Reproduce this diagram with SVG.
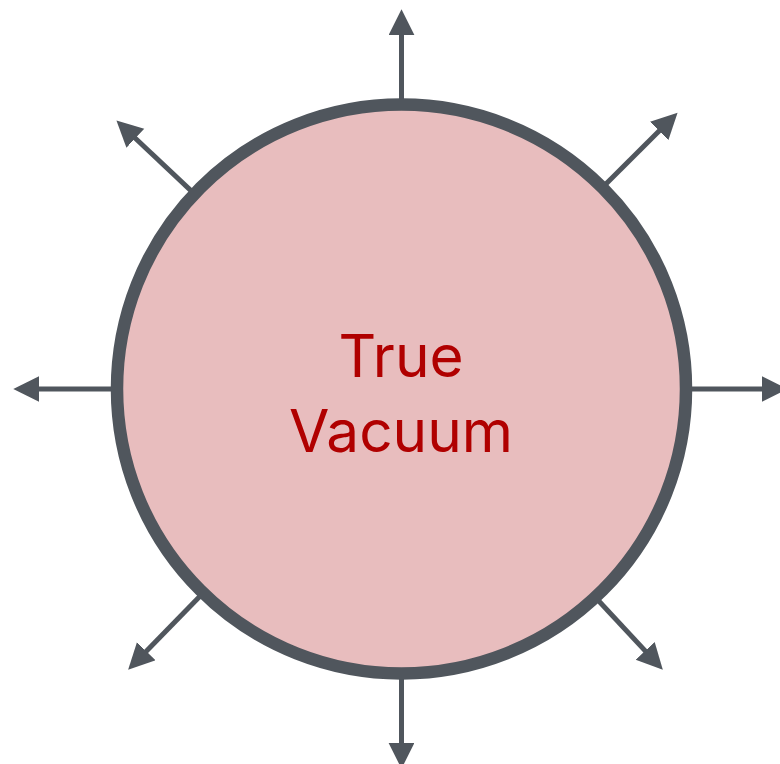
<svg xmlns="http://www.w3.org/2000/svg" width="780" height="764" viewBox="0 0 780 764">
  <style>
    .conn { stroke: #50565d; stroke-width: 5; fill: none; marker-end: url(#head); }
    .bubble { fill: #e8bdbe; stroke: #50565d; stroke-width: 12.5; }
    .label { font-family: Inter, "Noto Sans", "Liberation Sans", sans-serif; font-size: 58.5px; fill: #b00000; text-anchor: middle; }
  </style>
  <defs>
    <marker id="head" markerUnits="userSpaceOnUse" markerWidth="27" markerHeight="27" viewBox="0 0 26 26" refX="6" refY="12.5" orient="auto">
      <path d="M0,0 L25,12.5 L0,25 z" fill="#50565d"/>
    </marker>
  </defs>
  <g id="connectors">
    <line class="conn" x1="401.5" y1="104.5" x2="401.5" y2="29"/>
    <line class="conn" x1="401.5" y1="673.5" x2="401.5" y2="749"/>
    <line class="conn" x1="117" y1="389" x2="33" y2="389"/>
    <line class="conn" x1="686" y1="389" x2="768" y2="389"/>
    <line class="conn" x1="194.4" y1="193.9" x2="130.8" y2="134.0"/>
    <line class="conn" x1="602.4" y1="187.6" x2="663.6" y2="126.6"/>
    <line class="conn" x1="203.1" y1="592.9" x2="141.9" y2="655.7"/>
    <line class="conn" x1="595.3" y1="597.2" x2="649.4" y2="655.4"/>
  </g>
  <g id="true-vacuum">
    <circle class="bubble" cx="401.5" cy="389" r="284.5"/>
    <text class="label" x="401" y="377">True</text>
    <text class="label" x="401" y="452">Vacuum</text>
  </g>
</svg>
